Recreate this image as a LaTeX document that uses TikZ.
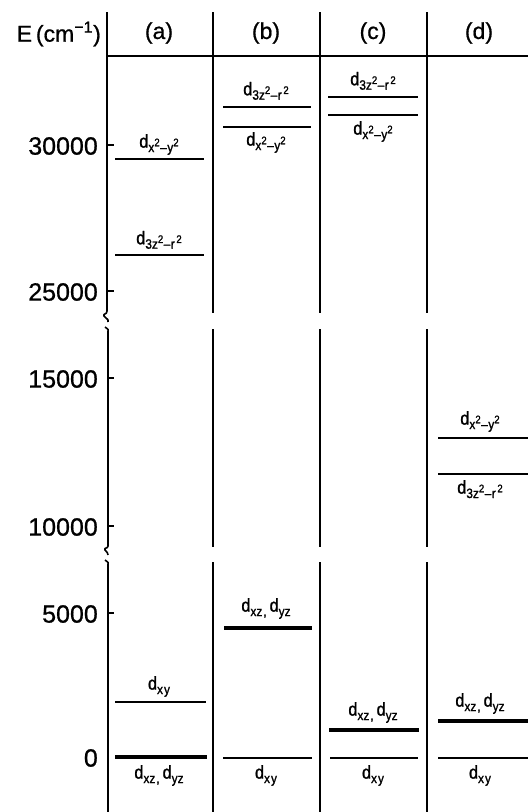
\documentclass[tikz,border=0pt]{standalone}
\usepackage{fontspec}
\setmainfont{Liberation Sans}[FakeBold=0.8]
\newfontfamily\labfont[FakeStretch=0.88,FakeBold=1.2]{Liberation Sans}
\newcommand\sqr{\raisebox{0.8ex}{\fontsize{11}{11}\selectfont 2}}
\newcommand\dlab[1]{{\labfont\fontsize{18.5}{19}\selectfont d\raisebox{-0.45ex}{\fontsize{13.5}{14}\selectfont #1}}}
\newcommand\dxy{\dlab{x\kern1pt y}}
\newcommand\dxxyy{\dlab{x\sqr\kern0.5pt–\kern0.5pt y\sqr}}
\newcommand\dzz{\dlab{3z\sqr\kern0.5pt–\kern0.5pt r\kern1.5pt\sqr}}
\newcommand\dxzyz{\dlab{xz\kern1pt,}\kern3pt\dlab{yz}}
\begin{document}
\begin{tikzpicture}[x=1pt,y=-1pt,
  frame/.style={line width=1.6pt},
  thin level/.style={line width=1.8pt},
  thick level/.style={line width=4.6pt},
  ticklab/.style={anchor=east,inner sep=0pt,font=\fontsize{25}{25}\selectfont},
  head/.style={inner sep=0pt,font=\fontsize{23}{23}\selectfont},
  up/.style={anchor=south,inner sep=0pt},
  down/.style={anchor=north,inner sep=0pt}]
\useasboundingbox (0,0) rectangle (528,812);
% header
\node[head,anchor=east] (Elab) at (101,34) {E\,(cm\textsuperscript{−1})};
\node[head] (ha) at (159,33) {(a)};
\node[head] (hb) at (266,33) {(b)};
\node[head] (hc) at (373,33) {(c)};
\node[head] (hd) at (479,33) {(d)};
\draw[frame] (106,56) -- (528,56);
% axis with breaks
\draw[frame] (107,12) -- (107,311) .. controls (107,315) and (103,313) .. (104,316) .. controls (105,319) and (109,318) .. (108,322);
\draw[frame] (105,327) .. controls (106,330) and (109,327) .. (108,332) -- (108,546) .. controls (108,549) and (104,547) .. (105,550) .. controls (106,553) and (109,552) .. (108,555);
\draw[frame] (105,560) .. controls (106,563) and (109,560) .. (108,565) -- (108,812);
% ticks
\foreach \yy in {145,291,378,526,613} \draw[frame] (107,\yy) -- (114,\yy);
\node[ticklab] (t30) at (98,146) {30000};
\node[ticklab] (t25) at (98,292) {25000};
\node[ticklab] (t15) at (98,379) {15000};
\node[ticklab] (t10) at (98,527) {10000};
\node[ticklab] (t5) at (98,614) {5000};
\node[ticklab] (t0) at (98,758) {0};
% column lines
\foreach \xx in {213,320,427} {
  \draw[frame] (\xx,12) -- (\xx,313);
  \draw[frame] (\xx,329) -- (\xx,547);
  \draw[frame] (\xx,562) -- (\xx,812);
}
% (a)
\draw[thin level] (115,159) -- (204,159);
\node[up] (a1) at (159,155) {\dxxyy};
\draw[thin level] (115,255) -- (204,255);
\node[up] (a2) at (159,249) {\dzz};
\draw[thin level] (115,702) -- (206,702);
\node[up] (a3) at (159,697) {\dxy};
\draw[thick level] (115,757) -- (207,757);
\node[down] (a4) at (159,765) {\dxzyz};
% (b)
\draw[thin level] (223,107) -- (311,107);
\node[up] (b1) at (266,100) {\dzz};
\draw[thin level] (223,127) -- (311,127);
\node[down] (b2) at (266,132) {\dxxyy};
\draw[thick level] (224,628) -- (312,628);
\node[up] (b3) at (266,619) {\dxzyz};
\draw[thin level] (223,758) -- (312,758);
\node[down] (b4) at (266,765) {\dxy};
% (c)
\draw[thin level] (328,97) -- (418,97);
\node[up] (c1) at (373,90) {\dzz};
\draw[thin level] (328,115) -- (418,115);
\node[down] (c2) at (373,121) {\dxxyy};
\draw[thick level] (329,730) -- (419,730);
\node[up] (c3) at (373,723) {\dxzyz};
\draw[thin level] (330,758) -- (418,758);
\node[down] (c4) at (373,765) {\dxy};
% (d)
\draw[thin level] (438,438) -- (528,438);
\node[up] (d1) at (480,432) {\dxxyy};
\draw[thin level] (438,474) -- (528,474);
\node[down] (d2) at (480,480) {\dzz};
\draw[thick level] (438,721) -- (528,721);
\node[up] (d3) at (480,714) {\dxzyz};
\draw[thin level] (438,758) -- (528,758);
\node[down] (d4) at (480,765) {\dxy};
\end{tikzpicture}
\end{document}
